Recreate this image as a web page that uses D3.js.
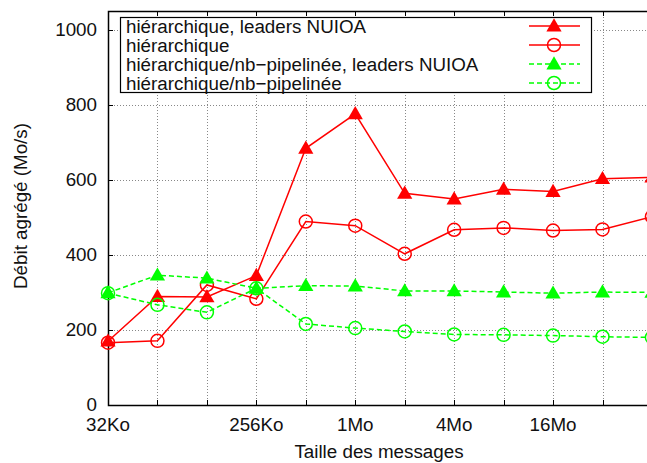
<!DOCTYPE html>
<html>
<head>
<meta charset="utf-8">
<script src="https://cdn.jsdelivr.net/npm/d3@7"></script>
<style>
  body { margin: 0; background: #fff; }
  text { font-family: "Liberation Sans", Arial, sans-serif; fill: #111; }
</style>
</head>
<body>
<svg id="chart"></svg>
<script>
// Message sizes in Ko (32Ko .. 64Mo)
const sizes = [32, 64, 128, 256, 512, 1024, 2048, 4096, 8192, 16384, 32768, 65536];

// Aggregated throughput (Mo/s)
const hierNuioa = [170, 289, 288, 345, 684, 776, 564, 549, 575, 569, 603, 607];
const hier = [166, 171, 320, 283, 489, 478, 403, 467, 472, 465, 468, 502];
const pipeNuioa = [299, 346, 338, 311, 318, 317, 304, 304, 301, 298, 301, 300];
const pipe = [298, 267, 247, 311, 216, 205, 196, 188, 187, 185, 182, 180];

const seriesNames = [
  "hiérarchique, leaders NUIOA",
  "hiérarchique",
  "hiérarchique/nb\u2212pipelinée, leaders NUIOA",
  "hiérarchique/nb\u2212pipelinée"
];

const xTickLabels = { 32: "32Ko", 256: "256Ko", 1024: "1Mo", 4096: "4Mo", 16384: "16Mo" };
const yTicks = [0, 200, 400, 600, 800, 1000];

const W = 647, H = 463;
const pLeft = 108, pTop = 11, pBottom = 405;
const pRight = 108 + 11 * 49.45;
const fs = 18.8;

const svg = d3.select("#chart").attr("width", W).attr("height", H);

const x = d3.scaleLog().base(2).domain([32, 65536]).range([pLeft, pRight]);
const y = d3.scaleLinear().domain([0, 1050]).range([pBottom, pTop]);

// grid
const grid = svg.append("g").attr("stroke", "#888").attr("stroke-width", 1)
  .attr("stroke-dasharray", "1,2");
grid.selectAll(".gx").data(sizes.slice(1)).enter().append("line")
  .attr("x1", d => Math.round(x(d)) + 0.5).attr("x2", d => Math.round(x(d)) + 0.5)
  .attr("y1", pTop).attr("y2", pBottom);
grid.selectAll(".gy").data(yTicks.slice(1)).enter().append("line")
  .attr("x1", pLeft).attr("x2", pRight)
  .attr("y1", d => Math.round(y(d)) + 0.5).attr("y2", d => Math.round(y(d)) + 0.5);

// tick marks (inward)
const ticks = svg.append("g").attr("stroke", "#000").attr("stroke-width", 1);
sizes.forEach(s => {
  const px = Math.round(x(s)) + 0.5;
  ticks.append("line").attr("x1", px).attr("x2", px).attr("y1", pBottom).attr("y2", pBottom - 5);
  ticks.append("line").attr("x1", px).attr("x2", px).attr("y1", pTop).attr("y2", pTop + 5);
});
yTicks.forEach(v => {
  const py = Math.round(y(v)) + 0.5;
  ticks.append("line").attr("x1", pLeft).attr("x2", pLeft + 5).attr("y1", py).attr("y2", py);
});

// frame
svg.append("path")
  .attr("d", `M${pRight},${pTop + 0.5}H${pLeft + 0.5}V${pBottom + 0.5}H${pRight}`)
  .attr("fill", "none").attr("stroke", "#000").attr("stroke-width", 1.5);

// tick labels
svg.append("g").selectAll("text").data(yTicks).enter().append("text")
  .attr("x", 97).attr("y", d => y(d)).attr("dy", "0.33em")
  .attr("text-anchor", "end").attr("font-size", fs).text(d => d);

svg.append("g").selectAll("text").data(Object.keys(xTickLabels).map(Number)).enter().append("text")
  .attr("x", d => x(d)).attr("y", 431)
  .attr("text-anchor", "middle").attr("font-size", fs).text(d => xTickLabels[d]);

// axis titles
svg.append("text").attr("x", 379).attr("y", 458).attr("text-anchor", "middle")
  .attr("font-size", fs).text("Taille des messages");
svg.append("text").attr("transform", "translate(27,206) rotate(-90)")
  .attr("text-anchor", "middle").attr("font-size", fs).text("Débit agrégé (Mo/s)");

// series
const series = [
  { values: hierNuioa, color: "#ff0000", dash: null, marker: "tri" },
  { values: hier, color: "#ff0000", dash: null, marker: "circ" },
  { values: pipeNuioa, color: "#00ff00", dash: "5,3", marker: "tri" },
  { values: pipe, color: "#00ff00", dash: "5,3", marker: "circ" }
];

const line = d3.line().x(d => x(d[0])).y(d => y(d[1]));
const tri = d3.symbol().type(d3.symbolTriangle).size(100);

function drawMarker(g, s, cx, cy) {
  if (s.marker === "tri") {
    g.append("path").attr("d", tri()).attr("transform", `translate(${cx},${cy + 1})`)
      .attr("fill", s.color);
  } else {
    g.append("circle").attr("cx", cx).attr("cy", cy).attr("r", 6.5)
      .attr("fill", "none").attr("stroke", s.color).attr("stroke-width", 1.5);
  }
}

series.forEach(s => {
  const pts = sizes.map((d, i) => [d, s.values[i]]);
  const g = svg.append("g");
  g.append("path").attr("d", line(pts)).attr("fill", "none")
    .attr("stroke", s.color).attr("stroke-width", 1.5)
    .attr("stroke-dasharray", s.dash);
  pts.forEach(p => drawMarker(g, s, x(p[0]), y(p[1])));
});

// legend
const lg = svg.append("g");
lg.append("rect").attr("x", 120.5).attr("y", 17.5).attr("width", 471).attr("height", 75)
  .attr("fill", "#fff").attr("stroke", "#000").attr("stroke-width", 1.2);
seriesNames.forEach((name, i) => {
  const cy = 26 + i * 19;
  const s = series[i];
  lg.append("text").attr("x", 126).attr("y", cy).attr("dy", "0.35em")
    .attr("font-size", fs).text(name);
  lg.append("line").attr("x1", 529).attr("x2", 580).attr("y1", cy).attr("y2", cy)
    .attr("stroke", s.color).attr("stroke-width", 1.5).attr("stroke-dasharray", s.dash);
  drawMarker(lg, s, 554, cy);
});
</script>
</body>
</html>
